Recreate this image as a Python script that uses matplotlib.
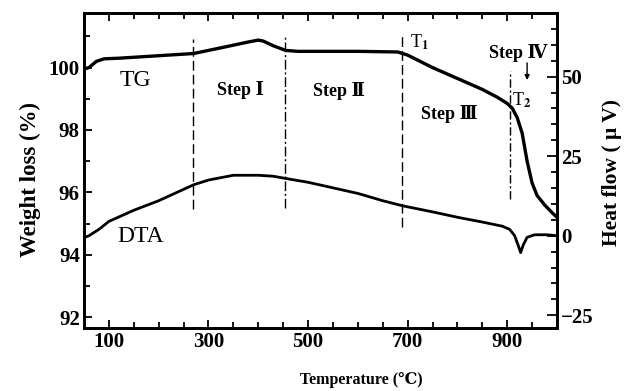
import matplotlib.pyplot as plt
from matplotlib.ticker import MultipleLocator

# TG curve (weight, %)
tg_temp = [50, 60, 75, 90, 120, 200, 270, 330, 380, 400, 410, 430, 455, 480,
           600, 680, 700, 750, 800, 850, 880, 900, 910, 920, 930, 940, 950,
           960, 975, 990, 1000]
tg_weight = [99.95, 100.0, 100.2, 100.28, 100.3, 100.38, 100.45, 100.65, 100.82,
             100.88, 100.85, 100.7, 100.55, 100.52, 100.52, 100.5, 100.4, 100.0,
             99.65, 99.3, 99.05, 98.85, 98.7, 98.4, 97.9, 97.0, 96.3, 95.9,
             95.6, 95.35, 95.2]

# DTA curve (heat flow, uV)
dta_temp = [50, 60, 80, 100, 150, 200, 270, 300, 350, 400, 430, 455, 500, 600,
            650, 690, 750, 800, 850, 890, 905, 915, 922, 927, 932, 940, 955,
            980, 1000]
dta_flow = [-0.6, 0.0, 2.0, 4.5, 8.0, 11.0, 16.0, 17.5, 19.0, 19.0, 18.7, 18.0,
            16.8, 13.3, 11.0, 9.4, 7.5, 5.8, 4.3, 3.0, 2.0, 0.0, -3.0, -5.3,
            -3.0, -0.5, 0.3, 0.3, 0.0]

step_bounds = [268, 454, 688, 905]
step_names = ["Step Ⅰ", "Step Ⅱ", "Step Ⅲ", "Step Ⅳ"]

x_ticks = [100, 300, 500, 700, 900]
left_ticks = [92, 94, 96, 98, 100]
right_ticks = [-25, 0, 25, 50]

SERIF = ["Liberation Serif", "DejaVu Serif", "Noto Sans CJK SC"]
plt.rcParams.update({
    "font.family": SERIF,
    "font.weight": "bold",
    "mathtext.fontset": "stix",
    "axes.linewidth": 2.0,
})

fig = plt.figure(figsize=(6.24, 3.91), dpi=100)
ax = fig.add_axes([0.1346, 0.1611, 0.758, 0.8057])
ax2 = ax.twinx()

ax.plot(tg_temp, tg_weight, color="black", lw=2.4, solid_capstyle="round")
ax2.plot(dta_temp, dta_flow, color="black", lw=2.0, solid_capstyle="round")

# step boundaries
v_top = [100.9, 101.03, 101.03, 99.9]
v_bot = [95.48, 95.5, 94.9, 95.8]
v_style = [(0, (7, 3)), (0, (7, 2, 1.5, 2)), (0, (7, 3)), (0, (6, 2, 1.5, 2))]
for xb, y0, y1, ls in zip(step_bounds, v_bot, v_top, v_style):
    ax.plot([xb, xb], [y0, y1], color="black", lw=1.0, linestyle=ls)

ax.set_xlim(50, 1000)
ax.set_ylim(91.65, 101.75)
ax2.set_ylim(-29, 70)

ax.set_xticks(x_ticks)
ax.xaxis.set_minor_locator(MultipleLocator(50))
ax.set_yticks(left_ticks)
ax.yaxis.set_minor_locator(MultipleLocator(1))
ax2.set_yticks(right_ticks)
ax2.yaxis.set_minor_locator(MultipleLocator(5))

ax.tick_params(which="both", direction="in", top=True, width=1.3, labelsize=15, pad=3)
ax.tick_params(which="major", length=6)
ax.tick_params(which="minor", length=4)
ax2.tick_params(which="both", direction="in", width=1.3, labelsize=15, pad=3)
ax2.tick_params(which="major", length=7)
ax2.tick_params(which="minor", length=4)
ax2.set_yticklabels(["\u221225", "0", "25", "50"])

ax.set_xlabel("Temperature (℃)", fontsize=11.5, fontweight="bold")
ax.xaxis.set_label_coords(0.586, -0.14)
ax.set_ylabel("Weight loss (%)", fontsize=16.5, fontweight="bold")
ax.yaxis.set_label_coords(-0.09, 0.473)
ax2.set_ylabel("Heat flow ( μ V)", fontsize=15.5, fontweight="bold", rotation=90)
ax2.yaxis.set_label_coords(1.095, 0.495)

# curve and step labels
ax.text(153, 99.58, "TG", fontsize=17, fontweight="normal", ha="center", va="center")
ax.text(163, 94.58, "DTA", fontsize=17, fontweight="normal", ha="center", va="center")
step_pos = [(365, 99.29), (563, 99.26), (783, 98.52), (921, 100.48)]
for name, (sx, sy) in zip(step_names, step_pos):
    ax.text(sx, sy, name, fontsize=13, fontweight="bold", ha="center", va="center")
ax.text(705, 100.81, "T$_1$", fontsize=13, fontweight="normal", ha="left", va="center")
ax.text(910, 98.94, "T$_2$", fontsize=13, fontweight="normal", ha="left", va="center")
ax.annotate("", xy=(940, 99.6), xytext=(940, 100.15),
            arrowprops=dict(arrowstyle="-|>", color="black", lw=1.0,
                            mutation_scale=7, shrinkA=0, shrinkB=0))

fig.savefig("out.png", dpi=100)
